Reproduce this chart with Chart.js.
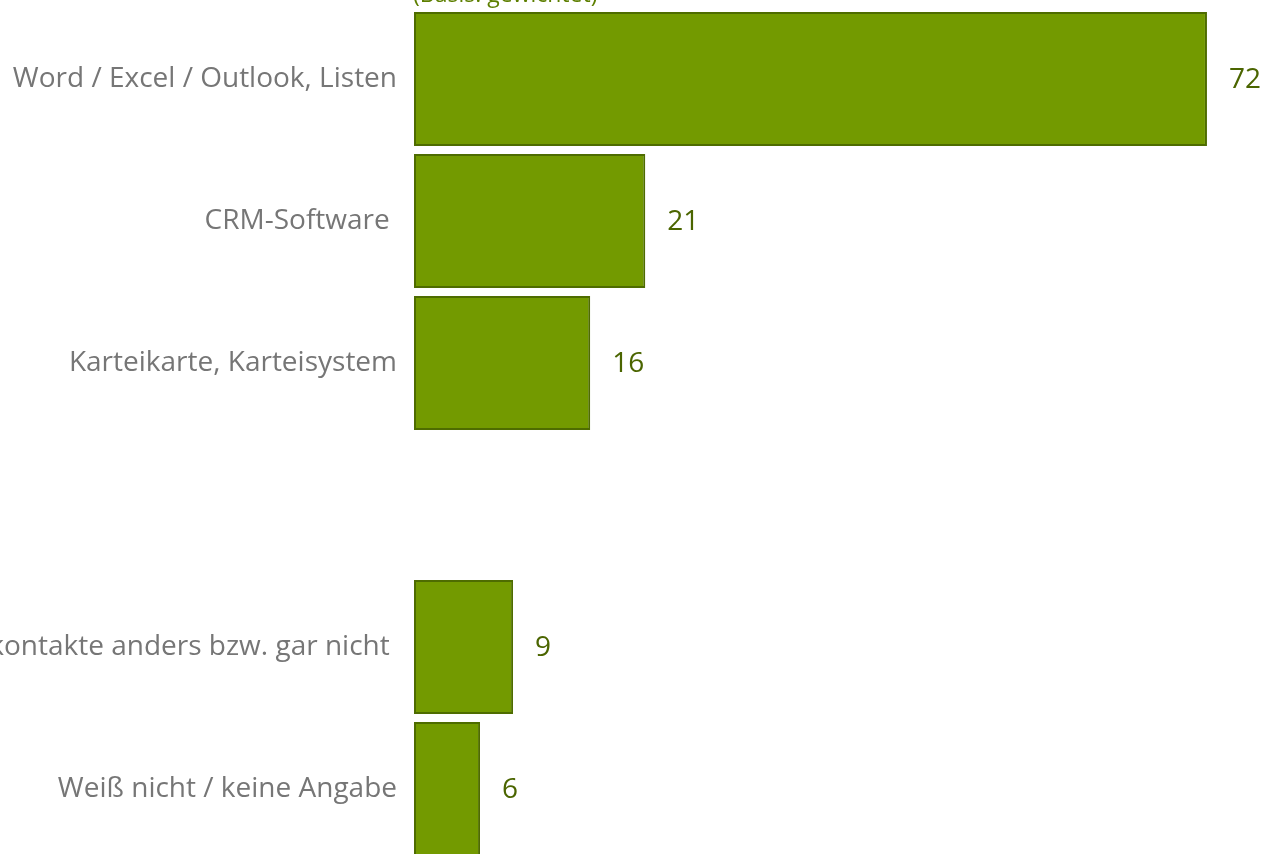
<!DOCTYPE html>
<html>
<head>
<meta charset="utf-8">
<script src="https://cdn.jsdelivr.net/npm/chart.js@4"></script>
<style>
  html, body { margin: 0; padding: 0; background: #fff; overflow: hidden; }
  #wrap { position: relative; width: 1261px; height: 860px; }
</style>
</head>
<body>
<div id="wrap"><canvas id="barChart"></canvas></div>
<script>
const categories = [
  "Word / Excel / Outlook, Listen",
  "CRM-Software ",
  "Karteikarte, Karteisystem",
  "",
  "kontakte anders bzw. gar nicht ",
  "Weiß nicht / keine Angabe"
];
const values = [72, 21, 16, null, 9, 6];
const noteText = "(Basis: gewichtet)";

const FONT = "'Open Sans', 'Noto Sans', sans-serif";

// value labels right of each bar + the cut-off note at the top
const labelPlugin = {
  id: "valueLabels",
  afterDatasetsDraw(chart) {
    const c = chart.ctx;
    const meta = chart.getDatasetMeta(0);
    c.save();
    c.font = "28px " + FONT;
    c.fillStyle = "#4b6500";
    c.textBaseline = "middle";
    c.textAlign = "left";
    meta.data.forEach((bar, i) => {
      if (values[i] == null) return;
      c.fillText(String(values[i]), bar.x + 22, bar.y + 1);
    });
    c.font = "23px " + FONT;
    c.fillStyle = "#5d7f00";
    c.textBaseline = "alphabetic";
    c.fillText(noteText, chart.chartArea.left - 1, 2);
    c.restore();
  }
};

new Chart(document.getElementById("barChart"), {
  type: "bar",
  data: {
    labels: categories,
    datasets: [{
      data: values,
      backgroundColor: "#739a00",
      borderColor: "#4e6c00",
      borderWidth: 2,
      borderSkipped: false,
      categoryPercentage: 1,
      barPercentage: 134 / 142
    }]
  },
  options: {
    indexAxis: "y",
    responsive: true,
    maintainAspectRatio: false,
    animation: false,
    layout: { padding: { top: 8, right: 10, bottom: 0, left: 0 } },
    plugins: {
      legend: { display: false },
      tooltip: { enabled: false }
    },
    scales: {
      x: {
        display: false,
        min: 0,
        max: 76
      },
      y: {
        grid: { display: false, drawTicks: false },
        border: { display: false },
        ticks: {
          color: "#767676",
          padding: 17,
          font: { family: FONT, size: 28 }
        },
        afterFit(scale) {
          scale.width = 414;
          scale.paddingTop = 0;
          scale.paddingBottom = 0;
        }
      }
    }
  },
  plugins: [labelPlugin]
});
</script>
</body>
</html>
